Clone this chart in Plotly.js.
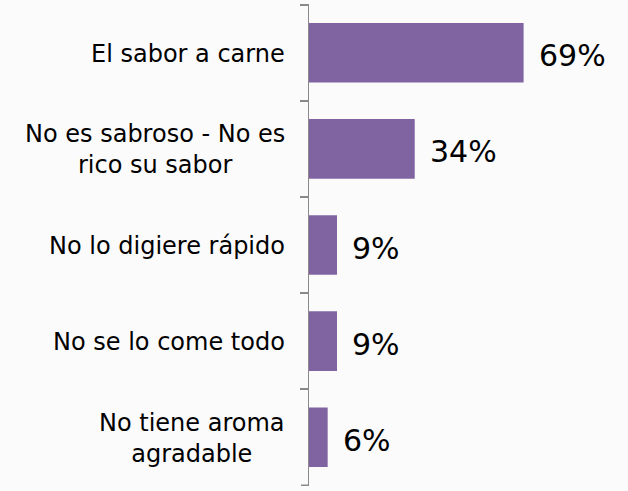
<!DOCTYPE html>
<html>
<head>
<meta charset="utf-8">
<script src="https://cdn.plot.ly/plotly-3.0.1.min.js"></script>
<style>html,body{margin:0;padding:0;background:#fbfbfb;}#chart{width:628px;height:491px;}</style>
</head>
<body>
<div id="chart"></div>
<script>
const categories = ["El sabor a carne", "No es sabroso - No es<br>rico su sabor", "No lo digiere rápido", "No se lo come todo", "No tiene aroma<br>agradable"];
const values = [69, 34, 9, 9, 6];
const valueLabels = ["69%", "34%", "9%", "9%", "6%"];

const trace = {
  type: "bar",
  orientation: "h",
  y: categories,
  x: values,
  marker: {color: "#8064a2"},
  width: 0.62,
  hoverinfo: "none"
};

const annotations = [];
categories.forEach((c, i) => {
  annotations.push({
    x: 0, xref: "paper", y: c, yref: "y",
    text: c, showarrow: false, xanchor: "right", align: "center",
    xshift: -22, yshift: -1,
    font: {family: "DejaVu Sans", size: 24, color: "#000"}
  });
  annotations.push({
    x: values[i], xref: "x", y: c, yref: "y",
    text: valueLabels[i], showarrow: false, xanchor: "left",
    xshift: 13, yshift: -3,
    font: {family: "DejaVu Sans", size: 30, color: "#000"}
  });
});

const tickEnds = [-0.5, categories.length - 0.5];
const shapes = tickEnds.map(v => ({
  type: "line", xref: "paper", yref: "y",
  x0: -8 / 311, x1: 0, y0: v, y1: v,
  line: {color: "#8a8a8a", width: 1.5}
}));

const layout = {
  width: 628, height: 491,
  margin: {l: 309, r: 8, t: 4, b: 5},
  paper_bgcolor: "#fbfbfb",
  plot_bgcolor: "#fbfbfb",
  showlegend: false,
  xaxis: {range: [0, 100], visible: false, fixedrange: true},
  yaxis: {
    type: "category",
    autorange: "reversed",
    showticklabels: false,
    showline: true, linecolor: "#8a8a8a", linewidth: 1.5,
    ticks: "outside", tickson: "boundaries", ticklen: 8, tickcolor: "#8a8a8a", tickwidth: 1.5,
    showgrid: false, zeroline: false, fixedrange: true
  },
  shapes: shapes,
  annotations: annotations
};

Plotly.newPlot("chart", [trace], layout, {displayModeBar: false, staticPlot: true});
</script>
</body>
</html>
